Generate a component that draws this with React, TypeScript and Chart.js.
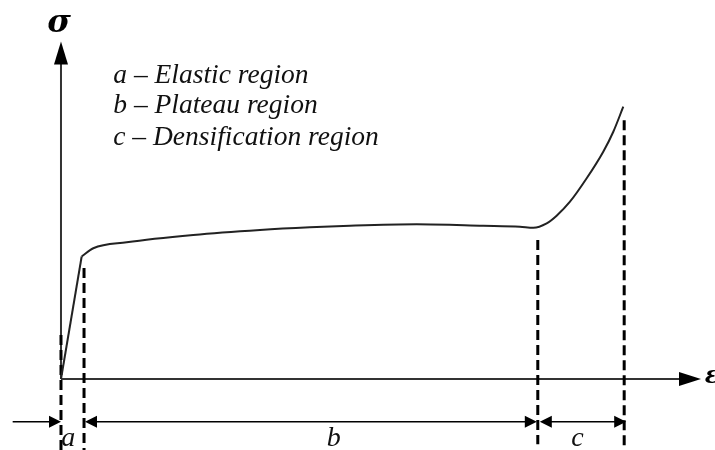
import React, { useEffect, useRef } from "react";
import { Chart, registerables } from "chart.js";

Chart.register(...registerables);

// Stress–strain curve of a cellular material (normalised units)
const elasticStrain = [0, 0.0323];
const elasticStress = [0, 0.363];

const plateauStrain = [0.0323, 0.0505, 0.1027, 0.2067, 0.3109, 0.389, 0.4516, 0.5558, 0.6598, 0.7172, 0.738, 0.7589, 0.7745, 0.7953, 0.8214, 0.8473, 0.863, 0.8786];
const plateauStress = [0.363, 0.3873, 0.405, 0.4267, 0.4415, 0.4495, 0.4542, 0.4584, 0.4542, 0.4513, 0.4483, 0.4613, 0.4839, 0.5253, 0.5947, 0.6735, 0.7327, 0.8068];

// Region boundaries (dashed lines)
const boundaryStrain = [0, 0.036, 0.745, 0.88];
const boundaryTop = [0.13, 0.329, 0.412, 0.767];
const boundaryBottom = [-0.22, -0.22, -0.193, -0.22];

// Region labels
const regionLabels = ["a", "b", "c"];
const regionLabelStrain = [0.0115, 0.426, 0.807];

const legendLines = ["a – Elastic region", "b – Plateau region", "c – Densification region"];

const axisLabels = { x: "ε", y: "σ" };

const X_MIN = -0.0953;
const X_MAX = 1.0219;
const Y_MIN = -0.2104;
const Y_MAX = 1.123;

function arrowHead(ctx: CanvasRenderingContext2D, tx: number, ty: number, dx: number, dy: number, len: number, half: number) {
  const bx = tx - dx * len;
  const by = ty - dy * len;
  const nx = -dy;
  const ny = dx;
  ctx.beginPath();
  ctx.moveTo(tx, ty);
  ctx.lineTo(bx + nx * half, by + ny * half);
  ctx.lineTo(bx - nx * half, by - ny * half);
  ctx.closePath();
  ctx.fill();
}

const decorPlugin = {
  id: "decor",
  beforeDatasetsDraw(chart: any) {
    const ctx: CanvasRenderingContext2D = chart.ctx;
    const xs = chart.scales.x;
    const ys = chart.scales.y;
    const px = (v: number) => xs.getPixelForValue(v);
    const py = (v: number) => ys.getPixelForValue(v);
    ctx.save();
    ctx.strokeStyle = "#333";
    ctx.fillStyle = "#000";
    ctx.lineWidth = 2;
    const ox = px(0);
    const oy = py(0);
    const yTip = py(1.0);
    const xTip = px(1.0);
    ctx.beginPath();
    ctx.moveTo(ox, oy);
    ctx.lineTo(ox, yTip + 20);
    ctx.stroke();
    arrowHead(ctx, ox, yTip, 0, -1, 23, 7);
    ctx.beginPath();
    ctx.moveTo(ox, oy);
    ctx.lineTo(xTip - 20, oy);
    ctx.stroke();
    arrowHead(ctx, xTip, oy, 1, 0, 22, 7);
    ctx.restore();
  },
  afterDatasetsDraw(chart: any) {
    const ctx: CanvasRenderingContext2D = chart.ctx;
    const xs = chart.scales.x;
    const ys = chart.scales.y;
    const px = (v: number) => xs.getPixelForValue(v);
    const py = (v: number) => ys.getPixelForValue(v);
    ctx.save();
    const dimY = py(-0.1265);
    ctx.strokeStyle = "#000";
    ctx.fillStyle = "#000";
    ctx.lineWidth = 1.5;
    const b = boundaryStrain.map(px);
    ctx.beginPath();
    ctx.moveTo(px(-0.0755), dimY);
    ctx.lineTo(b[0] - 8, dimY);
    ctx.moveTo(b[1] + 8, dimY);
    ctx.lineTo(b[2] - 8, dimY);
    ctx.moveTo(b[2] + 8, dimY);
    ctx.lineTo(b[3] - 8, dimY);
    ctx.stroke();
    const L = 12, H = 6;
    arrowHead(ctx, b[0], dimY, 1, 0, L, H);
    arrowHead(ctx, b[1] + 1, dimY, -1, 0, L, H);
    arrowHead(ctx, b[2] - 1, dimY, 1, 0, L, H);
    arrowHead(ctx, b[2] + 2, dimY, -1, 0, L, H);
    arrowHead(ctx, b[3] + 2, dimY, 1, 0, L, H);

    // region labels
    ctx.fillStyle = "#111";
    ctx.font = 'italic 28px "Liberation Serif"';
    ctx.textAlign = "center";
    ctx.textBaseline = "alphabetic";
    regionLabels.forEach((t, i) => {
      ctx.fillText(t, px(regionLabelStrain[i]), py(-0.2));
    });

    // legend text
    ctx.textAlign = "left";
    ctx.font = 'italic 27.5px "Liberation Serif"';
    const lx = px(0.0817);
    const baselines = [0.876, 0.787, 0.693];
    legendLines.forEach((t, i) => ctx.fillText(t, lx, py(baselines[i])));

    // axis labels
    ctx.fillStyle = "#000";
    ctx.font = 'bold italic 32px "DejaVu Serif"';
    ctx.textAlign = "center";
    ctx.fillText(axisLabels.y, px(-0.003), py(1.029));
    ctx.font = 'bold italic 24px "DejaVu Serif"';
    ctx.textAlign = "left";
    ctx.fillText(axisLabels.x, px(1.006), py(-0.012));
    ctx.restore();
  },
};

export default function App() {
  const ref = useRef<HTMLCanvasElement | null>(null);
  useEffect(() => {
    if (!ref.current) return;
    const datasets: any[] = [
      {
        data: elasticStrain.map((x, i) => ({ x, y: elasticStress[i] })),
        borderColor: "#222",
        borderWidth: 2,
        tension: 0,
      },
      {
        data: plateauStrain.map((x, i) => ({ x, y: plateauStress[i] })),
        borderColor: "#222",
        borderWidth: 2,
        cubicInterpolationMode: "monotone",
      },
      ...boundaryStrain.map((x, i) => ({
        data: [
          { x, y: boundaryTop[i] },
          { x, y: boundaryBottom[i] },
        ],
        borderColor: "#000",
        borderWidth: 3,
        borderDash: [10, 5],
        tension: 0,
      })),
    ];
    const chart = new Chart(ref.current, {
      type: "scatter",
      data: {
        datasets: datasets.map((d) => ({ ...d, showLine: true, pointRadius: 0, pointHoverRadius: 0, fill: false })),
      },
      options: {
        animation: false,
        responsive: false,
        layout: { padding: 0 },
        plugins: { legend: { display: false }, tooltip: { enabled: false } },
        scales: {
          x: { type: "linear", min: X_MIN, max: X_MAX, display: false },
          y: { type: "linear", min: Y_MIN, max: Y_MAX, display: false },
        },
      },
      plugins: [decorPlugin],
    });
    return () => chart.destroy();
  }, []);
  return (
    <div style={{ position: "absolute", left: 0, top: 0, width: 715, height: 450, background: "#fff" }}>
      <canvas ref={ref} width={715} height={450} style={{ display: "block" }} />
    </div>
  );
}
